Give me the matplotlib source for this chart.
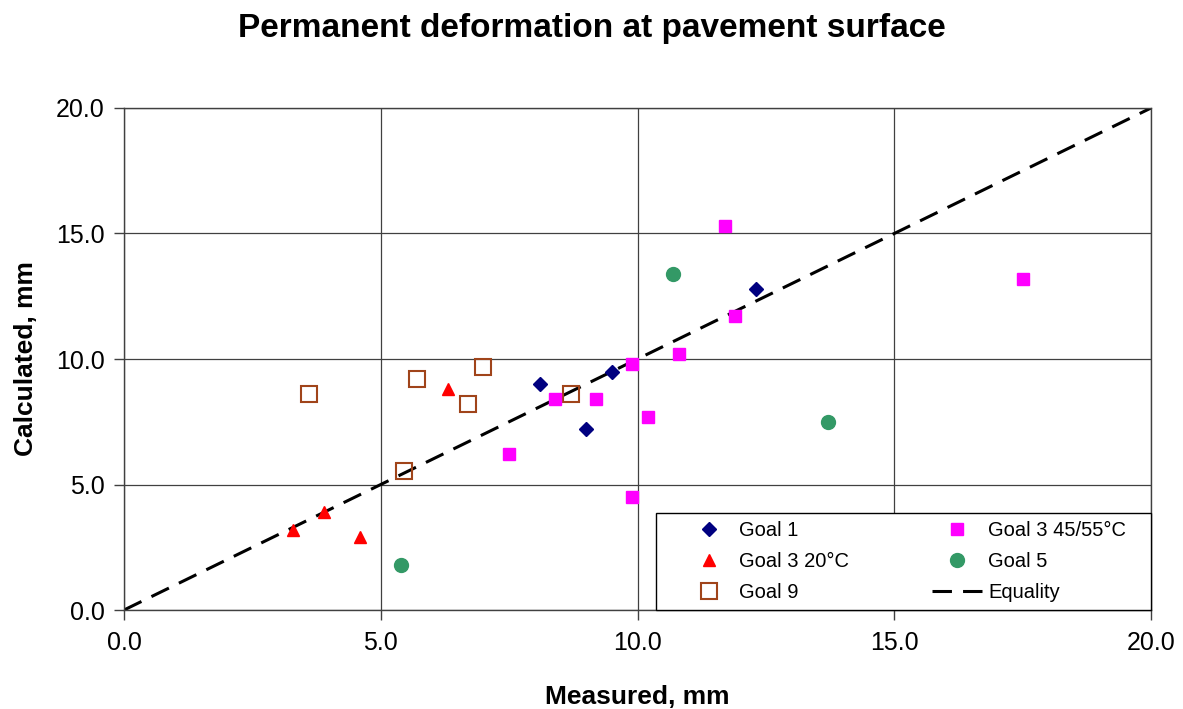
import matplotlib
matplotlib.use("Agg")
import matplotlib.pyplot as plt
from matplotlib.patches import Rectangle

plt.rcParams['font.family'] = ['Liberation Sans', 'DejaVu Sans']
plt.rcParams['lines.scale_dashes'] = False

# Measured vs calculated permanent deformation (mm)
goal1_x = [8.1, 9.0, 9.5, 12.3]
goal1_y = [9.0, 7.2, 9.5, 12.8]

goal3_20_x = [3.3, 3.9, 4.6, 6.3]
goal3_20_y = [3.2, 3.9, 2.9, 8.8]

goal9_x = [3.6, 5.7, 7.0, 6.7, 8.7, 5.45]
goal9_y = [8.6, 9.2, 9.7, 8.2, 8.6, 5.55]

goal3_45_x = [11.7, 17.5, 11.9, 10.8, 9.9, 8.4, 9.2, 10.2, 7.5, 9.9]
goal3_45_y = [15.3, 13.2, 11.7, 10.2, 9.8, 8.4, 8.4, 7.7, 6.2, 4.5]

goal5_x = [10.7, 13.7, 5.4]
goal5_y = [13.4, 7.5, 1.8]

equality = [0, 20]
ticks = [0, 5, 10, 15, 20]

fig = plt.figure(figsize=(11.83, 7.09), dpi=100)
ax = fig.add_axes([0.1048, 0.1396, 0.8682, 0.7081])

ax.grid(True, color='#404040', linewidth=0.9)
ax.set_axisbelow(True)

h_eq, = ax.plot(equality, equality, color='black', linewidth=2.2,
                dashes=(14, 8), label='Equality', zorder=2)
h1, = ax.plot(goal1_x, goal1_y, 'D', color='#000080', markersize=7.5,
              linestyle='none', label='Goal 1', zorder=3)
h2, = ax.plot(goal3_20_x, goal3_20_y, '^', color='#FF0000', markersize=8,
              linestyle='none', label='Goal 3 20°C', zorder=3)
h9, = ax.plot(goal9_x, goal9_y, 's', markerfacecolor='none',
              markeredgecolor='#A0441A', markeredgewidth=1.5, markersize=11,
              linestyle='none', label='Goal 9', zorder=3)
h3, = ax.plot(goal3_45_x, goal3_45_y, 's', color='#FF00FF', markersize=8.5,
              linestyle='none', label='Goal 3 45/55°C', zorder=3)
h5, = ax.plot(goal5_x, goal5_y, 'o', color='#339966', markersize=10,
              linestyle='none', label='Goal 5', zorder=3)

ax.set_xlim(0, 20)
ax.set_ylim(0, 20)
ax.set_xticks(ticks)
ax.set_yticks(ticks)
ax.set_xticklabels([f"{t:.1f}" for t in ticks])
ax.set_yticklabels([f"{t:.1f}" for t in ticks])
ax.tick_params(labelsize=18, length=7, width=1, color='#404040')
ax.tick_params(axis='x', pad=8)
ax.tick_params(axis='y', pad=7)

for s in ax.spines.values():
    s.set_color('#404040')
    s.set_linewidth(1)

ax.set_xlabel('Measured, mm', fontsize=19, fontweight='bold', labelpad=22)
ax.set_ylabel('Calculated, mm', fontsize=19, fontweight='bold', labelpad=13)
fig.suptitle('Permanent deformation at pavement surface', fontsize=24,
             fontweight='bold', x=0.5, y=0.982)

# legend box drawn separately so the entries can sit where they do in the original
box = Rectangle((0.518, 0.0), 0.482, 0.193, transform=ax.transAxes,
                facecolor='white', edgecolor='black', linewidth=1,
                zorder=4.5, clip_on=False)
ax.add_patch(box)
leg = ax.legend(handles=[h1, h2, h9, h3, h5, h_eq], ncol=2,
                loc='lower left', bbox_to_anchor=(0.5365, 0.0),
                fontsize=14.5, frameon=False, borderaxespad=0,
                borderpad=0.4, handlelength=2.54, labelspacing=0.6,
                handletextpad=0.25, columnspacing=4.1)

fig.savefig('out.png', dpi=100)
